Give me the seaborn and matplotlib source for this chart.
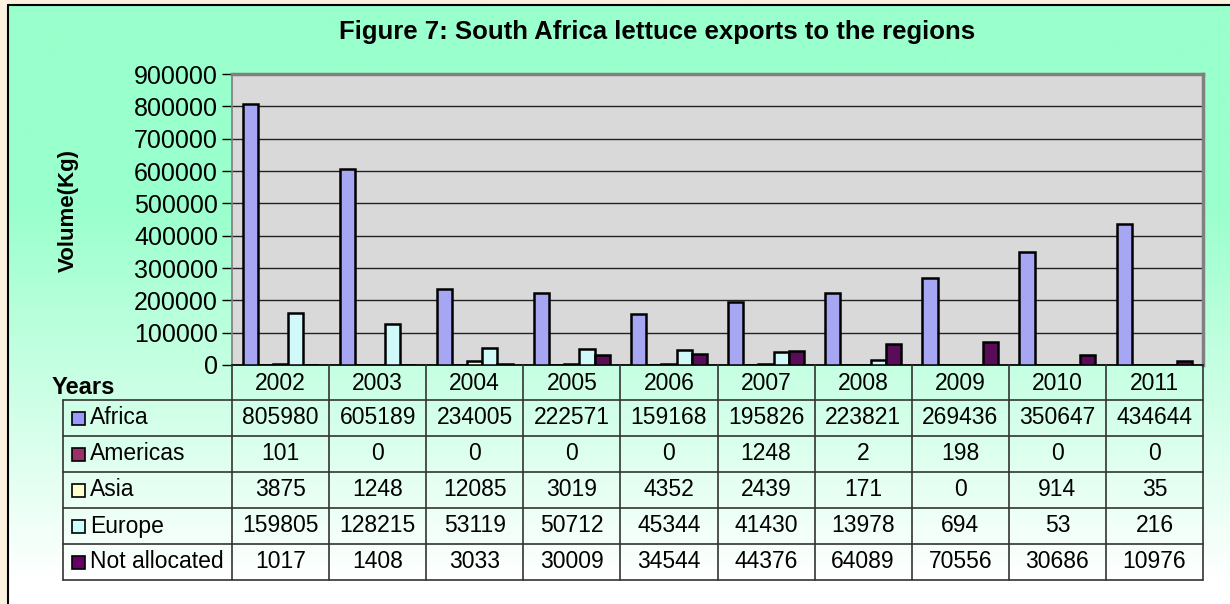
import numpy as np
import pandas as pd
import matplotlib
matplotlib.use('Agg')
import matplotlib.pyplot as plt
import seaborn as sns
from matplotlib.patches import Rectangle

years = ['2002', '2003', '2004', '2005', '2006', '2007', '2008', '2009', '2010', '2011']
regions = ['Africa', 'Americas', 'Asia', 'Europe', 'Not allocated']
africa = [805980, 605189, 234005, 222571, 159168, 195826, 223821, 269436, 350647, 434644]
americas = [101, 0, 0, 0, 0, 1248, 2, 198, 0, 0]
asia = [3875, 1248, 12085, 3019, 4352, 2439, 171, 0, 914, 35]
europe = [159805, 128215, 53119, 50712, 45344, 41430, 13978, 694, 53, 216]
not_allocated = [1017, 1408, 3033, 30009, 34544, 44376, 64089, 70556, 30686, 10976]
colors = ['#9999FF', '#993366', '#FFFFCC', '#CCFFFF', '#660066']

series = [africa, americas, asia, europe, not_allocated]
df = pd.DataFrame({'Year': years * len(regions),
                   'Region': np.repeat(regions, len(years)),
                   'Volume': np.concatenate(series)})

sns.set_theme(style='white')
plt.rcParams['font.family'] = ['Liberation Sans', 'DejaVu Sans']
plt.rcParams['text.color'] = 'black'
plt.rcParams['ytick.color'] = 'black'
plt.rcParams['xtick.color'] = 'black'

W, H = 1230, 604
fig = plt.figure(figsize=(W / 100, H / 100), dpi=100)

# background: cream page + mint gradient chart area
bg = fig.add_axes([0, 0, 1, 1], zorder=-10)
bg.add_patch(Rectangle((0, 0), W, H, color='#FBF1DE', zorder=1))
t = np.clip((np.linspace(0, H, 300) - 200) / 380, 0, 1)[:, None]
top = np.array([0x99, 0xFF, 0xCC]) / 255
grad = (top * (1 - t) + np.ones(3) * t)[:, None, :]
bg.imshow(grad, extent=(8, W, H, 5), aspect='auto', zorder=2)
bg.plot([8, 8], [5, H], color='black', lw=1.5, zorder=3)
bg.plot([8, W], [5, 5], color='black', lw=1.5, zorder=3)
bg.set_xlim(0, W)
bg.set_ylim(H, 0)
bg.axis('off')

# bar axes
ax = fig.add_axes([232 / W, 1 - 365 / H, 971 / W, 291 / H])
ax.set_facecolor('#D9D9D9')
sns.barplot(data=df, x='Year', y='Volume', hue='Region', hue_order=regions,
            palette=colors, width=0.78, edgecolor='black', linewidth=1.8,
            legend=False, ax=ax, zorder=3)
ax.set_ylim(0, 900000)
ax.set_xlim(-0.5, len(years) - 0.5)
ax.set_yticks(np.arange(0, 900001, 100000))
ax.set_yticklabels([str(v) for v in range(0, 900001, 100000)], fontsize=18)
ax.set_xticks([])
ax.set_xlabel('')
ax.set_ylabel('')
ax.yaxis.grid(True, color='#222222', lw=1.0, zorder=0)
ax.set_axisbelow(True)
ax.tick_params(axis='y', direction='out', length=7, width=1, color='black', left=True, pad=3)
for s in ['top', 'right']:
    ax.spines[s].set_color('#808080')
    ax.spines[s].set_linewidth(2.5)
ax.spines['left'].set_color('#808080')
ax.spines['bottom'].set_color('black')

fig.text(657 / W, 1 - 32 / H, 'Figure 7: South Africa lettuce exports to the regions',
         ha='center', va='center', fontsize=18.5, fontweight='bold')
fig.text(68 / W, 1 - 210 / H, 'Volume(Kg)', rotation=90, ha='center', va='center',
         fontsize=16, fontweight='bold')

# data table drawn under the bars
ov = fig.add_axes([0, 0, 1, 1], zorder=5)
ov.set_xlim(0, W)
ov.set_ylim(H, 0)
ov.axis('off')
col_x = np.linspace(232, 1203, len(years) + 1)
row_y = [400, 436, 472, 508, 544, 580]
lc = '#333333'
for x in col_x:
    ov.plot([x, x], [365, row_y[-1]], color=lc, lw=1.2)
ov.plot([63, 63], [row_y[0], row_y[-1]], color=lc, lw=1.2)
for y in row_y:
    ov.plot([63, 1203], [y, y], color=lc, lw=1.2)
ov.text(52, 388, 'Years', ha='left', va='center', fontsize=17, fontweight='bold')
for j, yr in enumerate(years):
    ov.text((col_x[j] + col_x[j + 1]) / 2, 383, yr, ha='center', va='center', fontsize=16.5)
for i, (name, vals) in enumerate(zip(regions, series)):
    yc = (row_y[i] + row_y[i + 1]) / 2
    ov.add_patch(Rectangle((72, yc - 6.5), 13, 13, facecolor=colors[i],
                           edgecolor='black', lw=1.2))
    ov.text(90, yc, name, ha='left', va='center', fontsize=16.5)
    for j, v in enumerate(vals):
        ov.text((col_x[j] + col_x[j + 1]) / 2, yc, str(v), ha='center', va='center', fontsize=16.5)

fig.savefig('out.png', dpi=100)
